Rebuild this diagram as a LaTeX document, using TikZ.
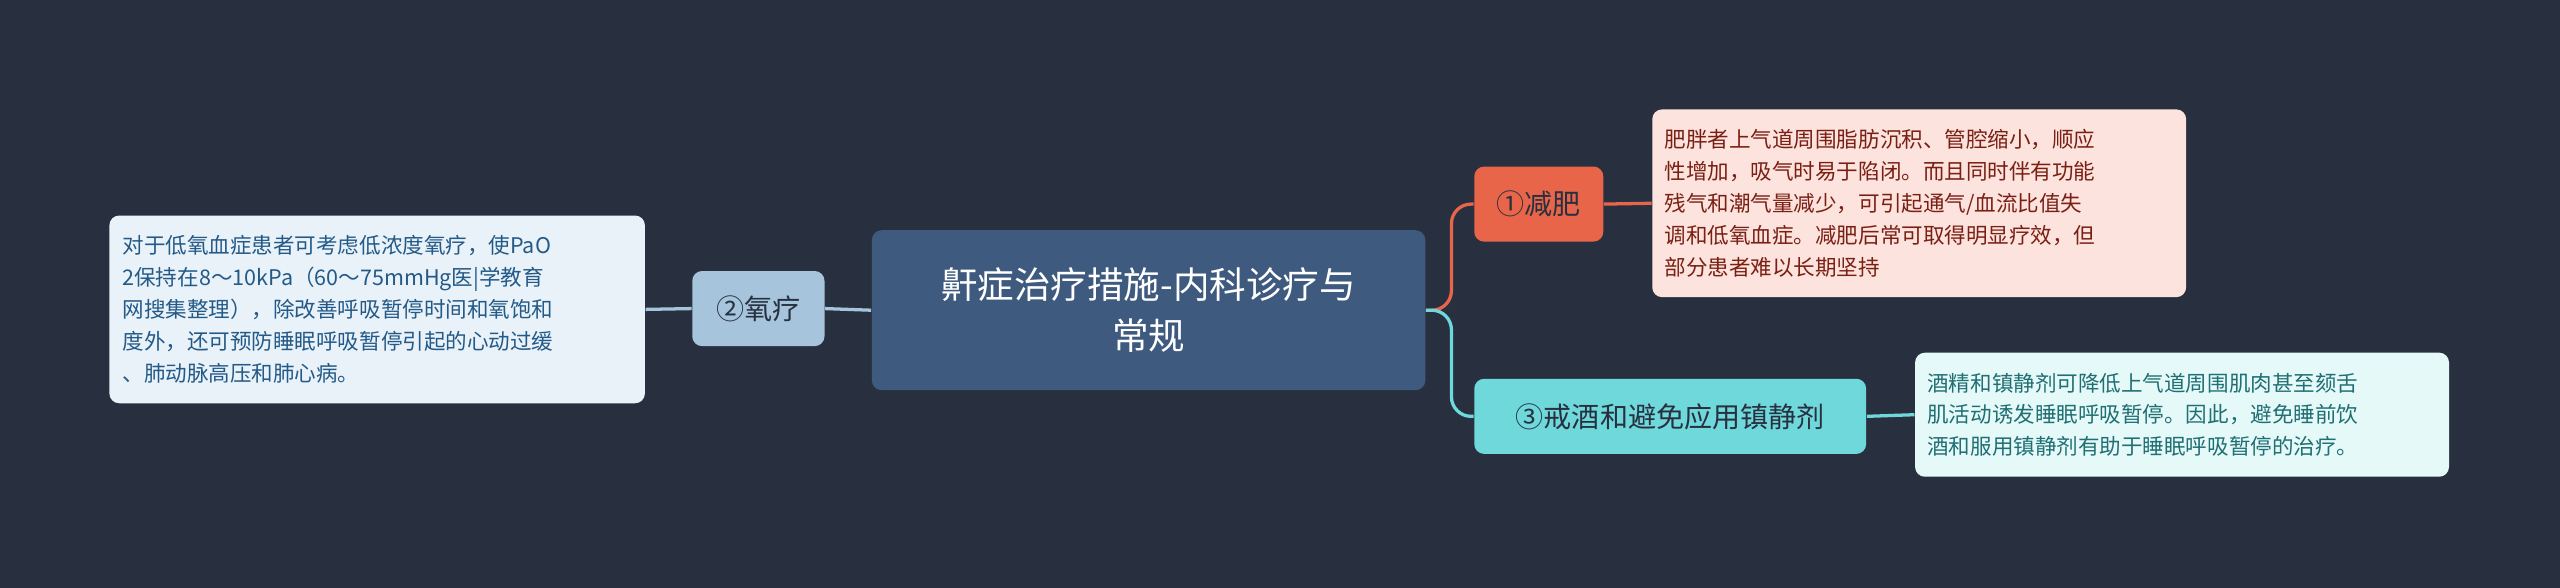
\documentclass[tikz,border=0pt]{standalone}
\usepackage{fontspec}
\setmainfont{Noto Sans CJK SC}
\begin{document}
\begin{tikzpicture}[x=0.5pt,y=-0.5pt,
  box/.style={rounded corners=3pt,inner sep=0pt,align=left},
  leaf/.style={box,font=\fontsize{6.6pt}{9.75pt}\selectfont},
  mid/.style={box,font=\fontsize{8.6pt}{11pt}\selectfont,align=center}]
\definecolor{bg}{HTML}{283040}
\fill[bg] (0,0) rectangle (1568,360);
\useasboundingbox (0,0) rectangle (1568,360);
\definecolor{rootc}{HTML}{3F5A7F}
\definecolor{oxy}{HTML}{A6C4DC}
\definecolor{oxyl}{HTML}{E9F2F9}
\definecolor{oxyt}{HTML}{245A88}
\definecolor{org}{HTML}{E8654A}
\definecolor{orgl}{HTML}{FDE3DD}
\definecolor{orgt}{HTML}{7A1F14}
\definecolor{cya}{HTML}{6ED8DB}
\definecolor{cyal}{HTML}{E6F9F9}
\definecolor{cyat}{HTML}{1F6F73}
\node[box,fill=rootc,minimum width=169.5pt,minimum height=49pt,align=center,text=white,font=\fontsize{11.2pt}{15.5pt}\selectfont] (root) at (703.5,190) {鼾症治疗措施-内科诊疗与\\常规};
\node[mid,fill=oxy,minimum width=40.5pt,minimum height=23pt,text=bg] (oxy) at (464.5,189) {②氧疗};
\node[leaf,fill=oxyl,text=oxyt,minimum width=164pt,minimum height=57.5pt,text width=156pt] (oxyleaf) at (231,189.5) {对于低氧血症患者可考虑低浓度氧疗，使PaO\\2保持在8～10kPa（60～75mmHg医|学教育\\网搜集整理），除改善呼吸暂停时间和氧饱和\\度外，还可预防睡眠呼吸暂停引起的心动过缓\\、肺动脉高压和肺心病。};
\node[mid,fill=org,minimum width=39.5pt,minimum height=23pt,text=bg] (fat) at (942.5,125) {①减肥};
\node[leaf,fill=orgl,text=orgt,minimum width=163.5pt,minimum height=57.5pt,text width=156pt] (fatleaf) at (1175.5,124.5) {肥胖者上气道周围脂肪沉积、管腔缩小，顺应\\性增加，吸气时易于陷闭。而且同时伴有功能\\残气和潮气量减少，可引起通气/血流比值失\\调和低氧血症。减肥后常可取得明显疗效，但\\部分患者难以长期坚持};
\node[mid,fill=cya,minimum width=120pt,minimum height=23pt,text=bg] (alc) at (1023,255) {③戒酒和避免应用镇静剂};
\node[leaf,fill=cyal,text=cyat,minimum width=163.5pt,minimum height=38pt,text width=156pt] (alcleaf) at (1336.5,254) {酒精和镇静剂可降低上气道周围肌肉甚至颏舌\\肌活动诱发睡眠呼吸暂停。因此，避免睡前饮\\酒和服用镇静剂有助于睡眠呼吸暂停的治疗。};
\draw[oxy,line width=1pt] (root.west) -- (oxy.east);
\draw[oxy,line width=1pt] (oxy.west) -- (oxyleaf.east);
\draw[org,line width=1pt,rounded corners=6pt] (root.east) -- (889,190) -- (889,125) -- (fat.west);
\draw[cya,line width=1pt,rounded corners=6pt] (root.east) -- (889,190) -- (889,255) -- (alc.west);
\draw[org,line width=1pt] (fat.east) -- (fatleaf.west);
\draw[cya,line width=1pt] (alc.east) -- (alcleaf.west);
\end{tikzpicture}
\end{document}
